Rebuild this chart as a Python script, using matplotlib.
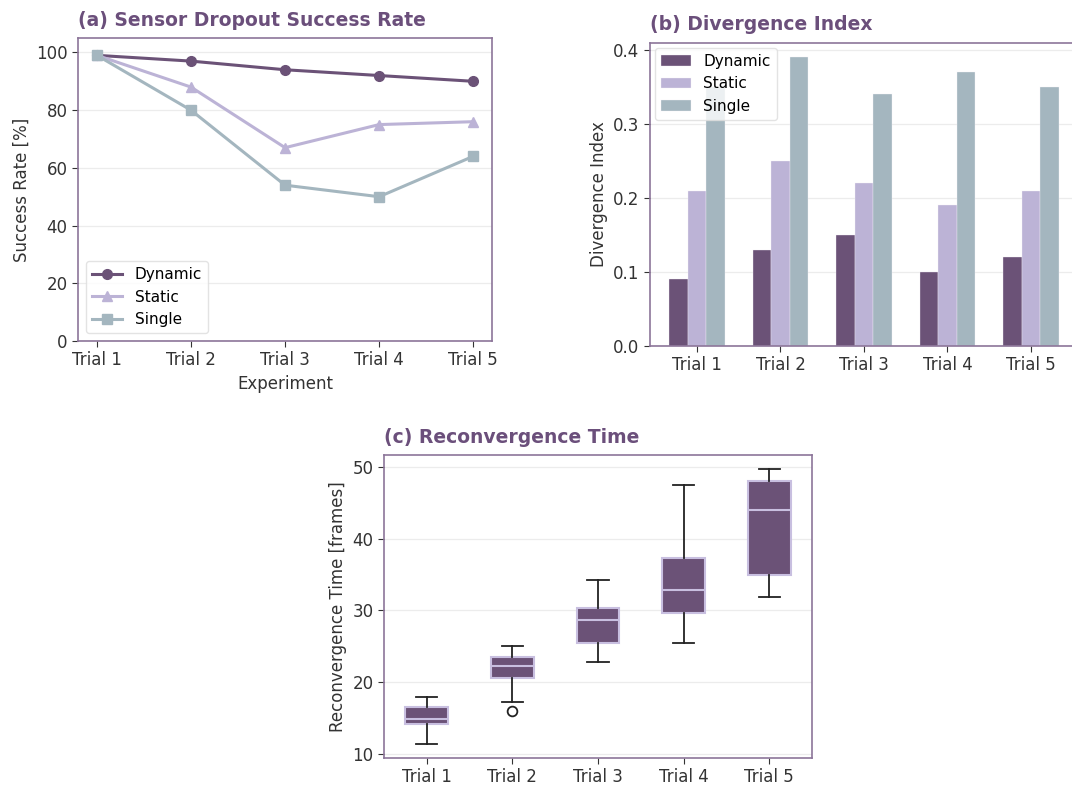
import numpy as np
import matplotlib
matplotlib.use("Agg")
import matplotlib.pyplot as plt

# ---- data ----
trials = ["Trial 1", "Trial 2", "Trial 3", "Trial 4", "Trial 5"]

success_dynamic = [99, 97, 94, 92, 90]
success_static = [99, 88, 67, 75, 76]
success_single = [99, 80, 54, 50, 64]

div_dynamic = [0.09, 0.13, 0.15, 0.10, 0.12]
div_static = [0.21, 0.25, 0.22, 0.19, 0.21]
div_single = [0.35, 0.39, 0.34, 0.37, 0.35]

# reconvergence time box summaries (frames)
rc_whislo = [11.3, 17.2, 22.8, 25.5, 31.9]
rc_q1 = [14.1, 20.6, 25.5, 29.6, 34.9]
rc_med = [14.9, 22.3, 28.7, 32.8, 44.0]
rc_q3 = [16.5, 23.5, 30.3, 37.4, 48.1]
rc_whishi = [17.9, 25.1, 34.3, 47.5, 49.8]
rc_fliers = [[], [16.0], [], [], []]

# ---- style ----
C_DYN = "#6b5277"
C_STA = "#bcb3d6"
C_SIN = "#a4b6bf"
C_TITLE = "#6b4f7b"
C_SPINE = "#8c7599"
C_TEXT = "#333333"

plt.rcParams.update({
    "font.family": "DejaVu Sans",
    "font.size": 12,
    "axes.edgecolor": C_SPINE,
    "axes.linewidth": 1.2,
    "xtick.color": C_TEXT,
    "ytick.color": C_TEXT,
    "xtick.labelcolor": C_TEXT,
    "ytick.labelcolor": C_TEXT,
    "axes.labelcolor": C_TEXT,
    "xtick.labelsize": 12,
    "ytick.labelsize": 12,
})


def style_axes(ax, title):
    ax.set_title(title, loc="left", fontsize=13.5, fontweight="bold",
                 color=C_TITLE, pad=9)
    ax.grid(axis="y", color="#ececec", linewidth=0.9)
    ax.set_axisbelow(True)
    ax.tick_params(axis="both", color=C_TEXT, length=4)


fig = plt.figure(figsize=(10.72, 7.87), dpi=100)

# (a) line plot
ax_a = fig.add_axes([0.0728, 0.5667, 0.3862, 0.385])
x = np.arange(len(trials))
ax_a.plot(x, success_dynamic, color=C_DYN, marker="o", lw=2.2, ms=7, label="Dynamic")
ax_a.plot(x, success_static, color=C_STA, marker="^", lw=2.2, ms=7, label="Static")
ax_a.plot(x, success_single, color=C_SIN, marker="s", lw=2.2, ms=7, label="Single")
ax_a.set_xticks(x)
ax_a.set_xticklabels(trials)
ax_a.set_xlim(-0.2, 4.2)
ax_a.set_ylim(0, 105)
ax_a.set_yticks([0, 20, 40, 60, 80, 100])
ax_a.set_xlabel("Experiment", fontsize=12)
ax_a.set_ylabel("Success Rate [%]", fontsize=12)
style_axes(ax_a, "(a) Sensor Dropout Success Rate")
ax_a.legend(loc="lower left", fontsize=11, frameon=True, edgecolor="#dddddd",
            borderaxespad=0.5)

# (b) grouped bars
ax_b = fig.add_axes([0.6063, 0.5604, 0.3993, 0.385])
w = 0.22
ax_b.bar(x - w, div_dynamic, w, color=C_DYN, edgecolor="#f4f0f8", lw=0.25, label="Dynamic")
ax_b.bar(x, div_static, w, color=C_STA, edgecolor="#f4f0f8", lw=0.25, label="Static")
ax_b.bar(x + w, div_single, w, color=C_SIN, edgecolor="#f4f0f8", lw=0.25, label="Single")
ax_b.set_xticks(x)
ax_b.set_xticklabels(trials)
ax_b.set_yticks([0.0, 0.1, 0.2, 0.3, 0.4])
ax_b.set_ylabel("Divergence Index", fontsize=12)
style_axes(ax_b, "(b) Divergence Index")
ax_b.legend(loc="upper left", fontsize=11, frameon=True, edgecolor="#dddddd",
            borderaxespad=0.3)

# (c) box plot from summary stats
ax_c = fig.add_axes([0.3582, 0.0368, 0.3993, 0.385])
stats = []
for i in range(len(trials)):
    stats.append({
        "med": rc_med[i], "q1": rc_q1[i], "q3": rc_q3[i],
        "whislo": rc_whislo[i], "whishi": rc_whishi[i],
        "fliers": rc_fliers[i], "label": trials[i],
    })
ax_c.bxp(stats, positions=np.arange(1, 6), widths=0.5, patch_artist=True,
         boxprops=dict(facecolor=C_DYN, edgecolor="#c8bfe0", linewidth=1.5),
         medianprops=dict(color="#c8bfe0", linewidth=1.5),
         whiskerprops=dict(color="#222222", linewidth=1.3),
         capprops=dict(color="#222222", linewidth=1.3),
         flierprops=dict(marker="o", markerfacecolor="none",
                         markeredgecolor="#222222", markersize=7, markeredgewidth=1.3))
ax_c.set_xlim(0.5, 5.5)
ax_c.set_yticks([10, 20, 30, 40, 50])
ax_c.set_ylabel("Reconvergence Time [frames]", fontsize=12)
style_axes(ax_c, "(c) Reconvergence Time")

fig.savefig("out.png", dpi=100)
